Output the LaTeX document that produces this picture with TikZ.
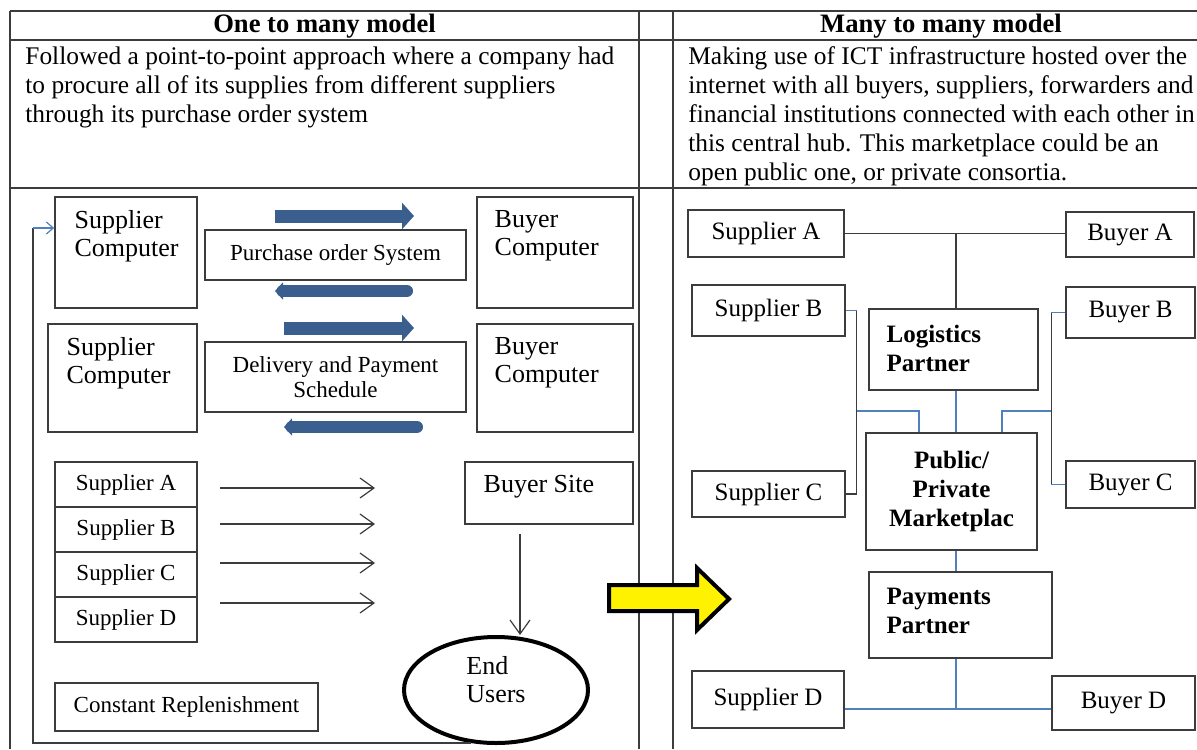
\documentclass[tikz,border=0pt]{standalone}
\usepackage{fontspec}
\setmainfont{Liberation Serif}
\usetikzlibrary{arrows.meta,shapes.geometric}

\definecolor{linkblue}{RGB}{79,129,189}
\definecolor{flowblue}{RGB}{58,95,142}
\definecolor{rulegray}{RGB}{60,60,60}

\newcommand{\fbody}{\fontsize{12.7}{14.5}\selectfont}
\newcommand{\fhead}{\bfseries\fontsize{13.3}{14.5}\selectfont}
\newcommand{\fbig}{\fontsize{13}{14}\selectfont}
\newcommand{\fsmall}{\fontsize{11.5}{12.5}\selectfont}
\newcommand{\fmid}{\fontsize{12.5}{14.5}\selectfont}
\newcommand{\fbold}{\bfseries\fontsize{12.5}{14.5}\selectfont}

\begin{document}
\begin{tikzpicture}[x=0.5pt, y=-0.5pt,
    frame/.style={draw=rulegray, line width=0.8pt},
    box/.style={draw=rulegray, line width=0.75pt, inner sep=0pt},
    lbl/.style={anchor=north west, align=left, inner sep=0pt},
    flowR/.style={flowblue, line width=6.5pt, -{Triangle[length=6pt,width=13pt]}},
    flowL/.style={flowblue, line width=6pt, line cap=round, -{Triangle[length=4pt,width=8.5pt]}},
    feed/.style={rulegray, line width=0.6pt, -{Straight Barb[length=7pt,width=10pt]}},
    link/.style={linkblue, line width=0.6pt},
    tie/.style={rulegray, line width=0.6pt},
]

\useasboundingbox (0,0) rectangle (1197,749);

%% Table frame
\foreach \y in {11,40,188}
    \draw[frame] (10,\y) -- (1197,\y);
\foreach \x in {10,639,673}
    \draw[frame] (\x,11) -- (\x,749);

% Headers and descriptions
\node[font=\fhead] (hdL) at (324.5,26) {One to many model};
\node[font=\fhead] (hdR) at (941,26) {Many to many model};
\node[lbl, font=\fbody] (txtL) at (25,46) {Followed a point-to-point approach where a company had\\
    to procure all of its supplies from different suppliers\\
    through its purchase order system};
\node[lbl, font=\fbody] (txtR) at (688,46) {Making use of ICT infrastructure hosted over the\\
    internet with all buyers, suppliers, forwarders and\\
    financial institutions connected with each other in\\
    this central hub. This marketplace could be an\\
    open public one, or private consortia.};

%% One to many model
% Purchase order row
\node[box, minimum width=71pt, minimum height=55.5pt,
    label={[lbl, font=\fbig, xshift=10pt, yshift=-7pt]north west:Supplier\\Computer}] (sc1) at (126,252.5) {};
\node[box, minimum width=130.5pt, minimum height=25pt, font=\fsmall] (pos) at (335.5,255) {Purchase order System};
\node[box, minimum width=78pt, minimum height=55.5pt,
    label={[lbl, font=\fbig, xshift=9pt, yshift=-7pt]north west:Buyer\\Computer}] (bc1) at (555,252.5) {};
\draw[flowR] (275,216) coordinate (po1) -- (414,216);
\draw[flowL] (407,291) coordinate (po2) -- (275,291);

% Delivery row
\node[box, minimum width=74.5pt, minimum height=54pt,
    label={[lbl, font=\fbig, xshift=9.5pt, yshift=-7pt]north west:Supplier\\Computer}] (sc2) at (122.5,378) {};
\node[box, minimum width=130.5pt, minimum height=35pt, font=\fsmall, align=center] (dps) at (335.5,377) {Delivery and Payment\\Schedule};
\node[box, minimum width=78pt, minimum height=54pt,
    label={[lbl, font=\fbig, xshift=9pt, yshift=-7pt]north west:Buyer\\Computer}] (bc2) at (555,378) {};
\draw[flowR] (284,328) coordinate (dp1) -- (414,328);
\draw[flowL] (417,427) coordinate (dp2) -- (284,427);

% Suppliers to buyer site
\foreach \n/\y in {A/484.5,B/529.5,C/574.5,D/619.5}
    \node[box, minimum width=71pt, minimum height=22.5pt, font=\fsmall] (s\n) at (126,\y) {Supplier \n};
\foreach \n/\y in {A/488,B/524,C/563,D/603}
    \draw[feed] (220,\y) coordinate (f\n) -- (375,\y);
\node[box, minimum width=84pt, minimum height=31pt,
    label={[lbl, font=\fbig, xshift=9.5pt, yshift=-7pt]north west:Buyer Site}] (bs) at (549,493) {};
\node[draw=black, ellipse, line width=2pt, minimum width=92pt, minimum height=53pt,
    label={[align=left, font=\fbig, yshift=5pt]center:End\\Users}] (eu) at (496,690) {};
\draw[feed] ([xshift=-14.5pt, yshift=-4.5pt]bs.south) -- ([xshift=-14.5pt]bs.south |- eu.north);
\node[box, minimum width=131.5pt, minimum height=24pt, font=\fsmall] (cr) at (186.5,707) {Constant Replenishment};

% Replenishment loop
\coordinate (looptop) at (33,228);
\draw[tie, line width=0.8pt] (eu.245) -| (looptop);
\draw[link, -{Straight Barb[length=3.5pt,width=6pt]}] (looptop) -- (looptop -| sc1.west);

% Transition arrow
\draw[line width=2pt, fill=yellow, line join=miter] (609,585) -- (697,585) -- (697,568) -- (729,599)
    -- (697,630) -- (697,611) -- (609,611) -- cycle;

%% Many to many model
\node[box, minimum width=78pt, minimum height=23.5pt, font=\fmid] (rsA) at (766,233.5) {Supplier A};
\node[box, minimum width=64pt, minimum height=22.5pt, font=\fmid] (rbA) at (1130,234.5) {Buyer A};
\node[box, minimum width=76.5pt, minimum height=25.5pt, font=\fmid] (rsB) at (768.5,310.5) {Supplier B};
\node[box, minimum width=64.5pt, minimum height=25.5pt, font=\fmid] (rbB) at (1130.5,312.5) {Buyer B};
\node[box, minimum width=84.5pt, minimum height=40.5pt,
    label={[lbl, font=\fbold, xshift=9pt, yshift=-8pt]north west:Logistics\\Partner}] (lp) at (953.5,349.5) {};
\node[box, minimum width=85.5pt, minimum height=58.5pt, font=\fbold, align=center] (pm) at (951.5,491.5) {Public/\\Private\\Marketplac};
\node[box, minimum width=76.5pt, minimum height=23pt, font=\fmid] (rsC) at (768.5,494) {Supplier C};
\node[box, minimum width=64.5pt, minimum height=23.5pt, font=\fmid] (rbC) at (1130.5,484.5) {Buyer C};
\node[box, minimum width=91.5pt, minimum height=43pt,
    label={[lbl, font=\fbold, xshift=9pt, yshift=-8pt]north west:Payments\\Partner}] (pp) at (960.5,615) {};
\node[box, minimum width=76pt, minimum height=28.5pt, font=\fmid] (rsD) at (768,699.5) {Supplier D};
\node[box, minimum width=71.5pt, minimum height=27pt, font=\fmid] (rbD) at (1123.5,703) {Buyer D};

% Links to the hub
\coordinate (spine) at (956,0);
\coordinate (mid) at (956,411);
\coordinate (bbus) at (956,709);
\draw[tie] (rsA.east) -- (rsA.east -| rbA.west);
\draw[tie] (spine |- rsA.east) -- (spine |- lp.north);
\draw[link] (rsB.east) -- ++(11,0) coordinate (lbus);
\draw[tie] (lbus) |- (rsC.east);
\draw[link] (rbB.west) -- ++(-14,0) coordinate (rbus);
\draw[tie] (rbus) -- (rbus |- rbC.west);
\draw[link] (rbus |- rbC.west) -- (rbC.west);
\draw[link] (lbus |- mid) -| ([xshift=-16.25pt]pm.north);
\draw[link] (spine |- lp.south) -- (spine |- pm.north);
\draw[link] (rbus |- mid) -| ([xshift=25.25pt]pm.north);
\draw[link] (spine |- pm.south) -- (spine |- pp.north);
\draw[link] (spine |- pp.south) -- (bbus);
\draw[link] (rsD.east |- bbus) -- (rbD.west |- bbus);

\end{tikzpicture}
\end{document}
